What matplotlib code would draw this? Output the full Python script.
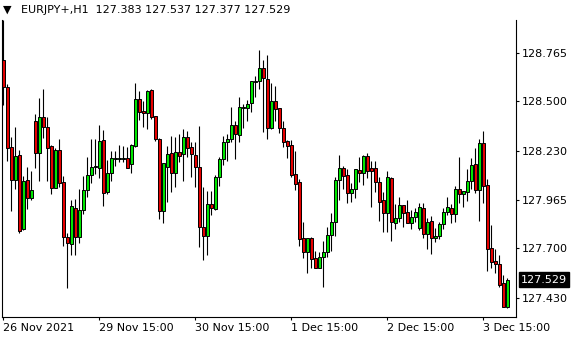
import matplotlib
matplotlib.use('Agg')
import matplotlib.pyplot as plt
from matplotlib.transforms import blended_transform_factory

# EURJPY+ H1 candles (oldest first)
opens = [128.725, 128.576, 128.250, 128.072, 128.208, 127.803, 128.072, 127.976, 128.393, 128.221,
         128.413, 128.358, 128.257, 128.030, 128.235, 128.059, 127.760, 127.723, 127.917, 127.760,
         127.907, 128.015, 128.097, 128.141, 128.135, 128.290, 128.005, 128.108, 128.186, 128.188,
         128.188, 128.190, 128.161, 128.257, 128.511, 128.447, 128.435, 128.562, 128.418, 128.295,
         127.905, 128.144, 128.217, 128.108, 128.222, 128.212, 128.304, 128.250, 128.206, 128.141,
         127.818, 127.769, 127.939, 127.916, 128.088, 128.186, 128.277, 128.293, 128.369, 128.315,
         128.466, 128.462, 128.489, 128.604, 128.609, 128.680, 128.622, 128.353, 128.500, 128.462,
         128.353, 128.282, 128.262, 128.103, 128.059, 127.754, 127.678, 127.754, 127.645, 127.591,
         127.651, 127.678, 127.771, 127.841, 128.072, 128.135, 128.099, 128.003, 128.023, 128.126,
         128.108, 128.202, 128.135, 128.135, 128.059, 127.961, 127.894, 128.081, 127.836, 127.867,
         127.936, 127.896, 127.836, 127.872, 127.809, 127.917, 127.776, 127.849, 127.754, 127.769,
         127.832, 127.896, 127.917, 127.885, 128.023, 127.994, 128.008, 128.066, 128.157, 128.017,
         128.271, 128.045, 127.700, 127.631, 127.613, 127.509, 127.383]
highs = [128.943, 128.594, 128.304, 128.359, 128.235, 128.095, 128.143, 128.121, 128.431, 128.516,
         128.565, 128.413, 128.262, 128.244, 128.295, 128.095, 127.785, 127.963, 127.968, 128.023,
         128.095, 128.197, 128.295, 128.295, 128.371, 128.344, 128.181, 128.230, 128.230, 128.261,
         128.257, 128.253, 128.268, 128.602, 128.556, 128.502, 128.562, 128.565, 128.420, 128.302,
         128.164, 128.257, 128.311, 128.304, 128.322, 128.349, 128.340, 128.277, 128.277, 128.366,
         128.035, 128.012, 128.012, 128.099, 128.199, 128.311, 128.320, 128.469, 128.393, 128.522,
         128.484, 128.507, 128.609, 128.638, 128.780, 128.725, 128.752, 128.598, 128.584, 128.462,
         128.393, 128.290, 128.290, 128.230, 128.075, 127.845, 127.754, 127.763, 127.685, 127.682,
         127.740, 127.818, 127.894, 128.090, 128.208, 128.148, 128.130, 128.054, 128.132, 128.199,
         128.208, 128.217, 128.175, 128.175, 128.090, 128.008, 128.121, 128.090, 127.941, 127.977,
         127.936, 127.963, 127.908, 127.918, 127.945, 127.945, 127.867, 127.876, 127.809, 127.841,
         127.917, 127.977, 127.939, 128.041, 128.199, 128.012, 128.132, 128.193, 128.248, 128.295,
         128.339, 128.077, 127.827, 127.696, 127.663, 127.555, 127.537]
lows = [128.480, 128.177, 127.905, 128.023, 127.785, 127.800, 127.914, 127.965, 128.139, 128.068,
        128.302, 128.068, 127.996, 128.026, 128.035, 127.714, 127.486, 127.663, 127.663, 127.727,
        127.885, 127.981, 128.057, 128.104, 128.084, 127.932, 127.994, 128.068, 128.150, 128.168,
        128.168, 128.135, 128.112, 128.251, 128.398, 128.362, 128.348, 128.406, 128.286, 127.859,
        127.836, 127.952, 128.006, 128.035, 128.172, 128.068, 128.195, 128.090, 128.035, 127.709,
        127.636, 127.663, 127.881, 127.908, 128.041, 128.154, 128.177, 128.277, 128.188, 128.280,
        128.357, 128.395, 128.444, 128.525, 128.567, 128.335, 128.293, 128.350, 128.395, 128.326,
        128.253, 128.190, 128.090, 128.017, 127.714, 127.645, 127.564, 127.595, 127.591, 127.591,
        127.487, 127.654, 127.687, 127.769, 127.963, 128.023, 127.948, 127.954, 127.976, 128.063,
        128.045, 128.084, 127.927, 128.008, 127.849, 127.790, 127.790, 127.741, 127.805, 127.845,
        127.818, 127.836, 127.805, 127.845, 127.800, 127.758, 127.696, 127.667, 127.732, 127.751,
        127.803, 127.881, 127.839, 127.845, 127.945, 127.923, 127.958, 128.023, 127.999, 127.849,
        127.945, 127.578, 127.591, 127.564, 127.491, 127.382, 127.377]
closes = [128.580, 128.244, 128.072, 128.202, 127.796, 128.066, 127.976, 128.017, 128.221, 128.413,
          128.358, 128.248, 128.030, 128.235, 128.057, 127.760, 127.727, 127.930, 127.760, 127.907,
          128.015, 128.097, 128.143, 128.148, 128.284, 127.999, 128.108, 128.190, 128.190, 128.190,
          128.190, 128.135, 128.262, 128.511, 128.444, 128.435, 128.556, 128.417, 128.295, 127.905,
          128.162, 128.212, 128.112, 128.222, 128.204, 128.304, 128.244, 128.212, 128.141, 127.814,
          127.769, 127.939, 127.921, 128.088, 128.186, 128.277, 128.295, 128.369, 128.320, 128.469,
          128.470, 128.484, 128.609, 128.611, 128.680, 128.625, 128.357, 128.500, 128.460, 128.353,
          128.280, 128.259, 128.099, 128.048, 127.751, 127.678, 127.754, 127.640, 127.591, 127.651,
          127.678, 127.771, 127.841, 128.072, 128.135, 128.095, 128.003, 128.023, 128.132, 128.108,
          128.202, 128.123, 128.123, 128.059, 127.954, 127.890, 128.086, 127.841, 127.867, 127.936,
          127.890, 127.836, 127.869, 127.896, 127.923, 127.776, 127.841, 127.754, 127.767, 127.832,
          127.899, 127.923, 127.885, 128.023, 127.994, 128.012, 128.066, 128.153, 128.017, 128.271,
          128.041, 127.694, 127.627, 127.613, 127.500, 127.382, 127.529]

price_ticks = [128.765, 128.500, 128.230, 127.965, 127.700, 127.430]
time_tick_bars = [0, 24, 48, 72, 96, 120]
time_labels = ['26 Nov 2021', '29 Nov 15:00', '30 Nov 15:00',
               '1 Dec 15:00', '2 Dec 15:00', '3 Dec 15:00']
symbol = 'EURJPY+,H1'

plt.rcParams['font.family'] = 'DejaVu Sans'
plt.rcParams['font.size'] = 8

fig = plt.figure(figsize=(5.8, 3.4), dpi=100)
ax = fig.add_axes([2 / 580, 23.3 / 340, 514 / 580, 296.7 / 340])

x = list(range(len(opens)))
bottoms = [min(o, c) for o, c in zip(opens, closes)]
heights = [abs(c - o) for o, c in zip(opens, closes)]
colors = ['#00e600' if c >= o else '#e60000' for o, c in zip(opens, closes)]

# wicks then bodies
ax.vlines(x, lows, highs, color='black', linewidth=0.8, zorder=1)
ax.bar(x, heights, bottom=bottoms, width=0.72, color=colors,
       edgecolor='black', linewidth=0.7, zorder=2)

ax.set_xlim(-0.35, 128.15)
ax.set_ylim(127.3275, 128.943)

for side in ['left', 'bottom', 'right']:
    ax.spines[side].set_color('black')
    ax.spines[side].set_linewidth(0.8)
ax.spines['top'].set_visible(False)

ax.yaxis.tick_right()
ax.set_yticks(price_ticks)
ax.set_yticklabels(['%.3f' % p for p in price_ticks])
ax.tick_params(axis='y', direction='out', length=2.5, width=0.8, pad=2, colors='black')

ax.set_xticks(time_tick_bars)
ax.set_xticklabels(time_labels, ha='left')
ax.tick_params(axis='x', direction='out', length=2.5, width=0.8, pad=2, colors='black')

# current price marker on the price scale
trans = blended_transform_factory(ax.transAxes, ax.transData)
ax.text(1.0 + 5 / 514, closes[-1], '%.3f' % closes[-1], transform=trans,
        ha='left', va='center', color='white', fontsize=8,
        bbox=dict(boxstyle='square,pad=0.2', fc='black', ec='black'))

# chart header
fig.text(3 / 580, 1 - 10 / 340, '\u25bc', fontsize=8, va='center', ha='left')
header = '%s  %.3f %.3f %.3f %.3f' % (symbol, opens[-1], highs[-1], lows[-1], closes[-1])
fig.text(21 / 580, 1 - 10 / 340, header, fontsize=8, va='center', ha='left')

fig.savefig('out.png', dpi=100, facecolor='white')
